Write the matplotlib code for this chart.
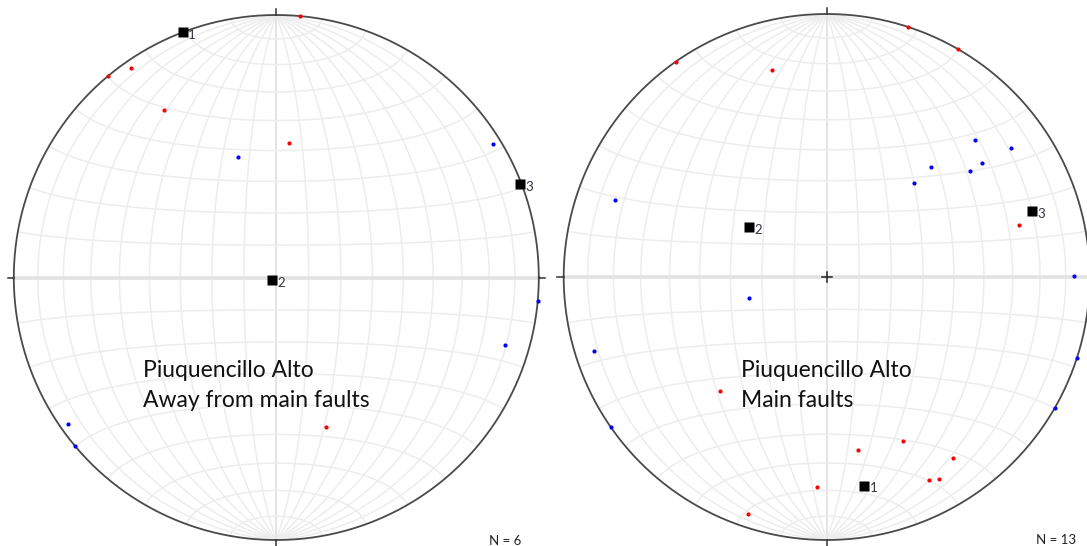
import numpy as np
import matplotlib.pyplot as plt

# Piuquencillo Alto - away from main faults (trend / plunge, degrees)
away_red_trend = [5.2, 325.3, 320.0, 326.3, 5.2, 161.7]
away_red_plunge = [0.0, 3.4, 0.0, 24.2, 47.4, 39.8]
away_blue_trend = [342.5, 58.3, 95.1, 106.5, 234.9, 230.0]
away_blue_plunge = [50.2, 3.5, 0.0, 9.9, 3.4, 0.0]
away_axes_trend = [339.1, 239.9, 69.1]
away_axes_plunge = [0.0, 88.4, 0.7]

# Piuquencillo Alto - main faults
main_red_trend = [18.0, 29.9, 325.0, 345.2, 74.8, 223.2, 169.9, 155.1, 145.0, 153.1, 151.0, 182.6, 198.4]
main_red_plunge = [0.0, 0.0, 0.0, 19.6, 25.1, 40.2, 33.5, 31.7, 17.1, 14.7, 13.2, 21.3, 5.5]
main_blue_trend = [47.3, 54.9, 43.5, 53.8, 53.6, 42.8, 290.0, 89.7, 255.0, 252.4, 107.9, 235.1, 119.8]
main_blue_plunge = [24.2, 15.6, 42.0, 27.7, 32.7, 49.7, 15.4, 6.5, 65.1, 8.0, 0.0, 0.0, 0.0]
main_axes_trend = [169.8, 302.6, 72.3]
main_axes_plunge = [20.5, 61.3, 19.1]

axis_labels = ['1', '2', '3']


def project(trend, plunge):
    # lower hemisphere equal-area (Schmidt)
    t = np.radians(np.asarray(trend, float))
    p = np.radians(np.asarray(plunge, float))
    r = np.sqrt(2) * np.sin((np.pi / 2 - p) / 2)
    return r * np.sin(t), r * np.cos(t)


def proj_vec(x, y, z):
    s = 1 / np.sqrt(1 + z)
    return x * s, y * s


def draw_net(ax, cross=False):
    t = np.radians(np.linspace(-90, 90, 181))
    for d in range(10, 180, 10):
        dr = np.radians(d)
        x, y = proj_vec(np.cos(t) * np.cos(dr), np.sin(t), np.cos(t) * np.sin(dr))
        if d == 90:
            ax.plot(x, y, color='#e4e4e4', lw=1.4, zorder=1)
        else:
            ax.plot(x, y, color='#ededed', lw=1.1, zorder=1)
    phi = np.radians(np.linspace(0, 180, 181))
    for a in range(10, 180, 10):
        ar = np.radians(a)
        x, y = proj_vec(np.sin(ar) * np.cos(phi), np.full_like(phi, np.cos(ar)),
                        np.sin(ar) * np.sin(phi))
        if a == 90:
            ax.plot(x, y, color='#e2e2e2', lw=2.6, zorder=1)
        else:
            ax.plot(x, y, color='#ededed', lw=1.1, zorder=1)
    w = np.linspace(0, 2 * np.pi, 400)
    ax.plot(np.cos(w), np.sin(w), color='#4a4a4a', lw=1.3, zorder=4)
    tk = 0.024
    ax.plot([0, 0], [1, 1 + tk], color='#333333', lw=1.1, zorder=4)
    ax.plot([0, 0], [-1, -1 - tk * 1.3], color='#333333', lw=1.1, zorder=4)
    ax.plot([1, 1 + tk], [0, 0], color='#333333', lw=1.1, zorder=4)
    ax.plot([-1, -1 - tk], [0, 0], color='#333333', lw=1.1, zorder=4)
    if cross:
        c = 0.019
        ax.plot([-c, c], [0, 0], color='#222222', lw=1.1, zorder=4)
        ax.plot([0, 0], [-c, c], color='#222222', lw=1.1, zorder=4)


def draw_data(ax, rt, rp, bt, bp, at, ap):
    x, y = project(rt, rp)
    ax.plot(x, y, 'o', color='#ff0000', ms=3.0, mec='none', zorder=5, clip_on=False)
    x, y = project(bt, bp)
    ax.plot(x, y, 'o', color='#0000ff', ms=3.0, mec='none', zorder=5, clip_on=False)
    x, y = project(at, ap)
    ax.plot(x, y, 's', color='black', ms=6.5, mec='none', zorder=6, clip_on=False)
    for xi, yi, lab in zip(x, y, axis_labels):
        ax.annotate(lab, (xi, yi), xytext=(3.8, -1.8), textcoords='offset points',
                    ha='left', va='center', fontsize=9.5, color='#333344',
                    family='Lato', zorder=3)


W, H = 1087, 546
fig = plt.figure(figsize=(W / 100, H / 100), dpi=100)


def net_axes(cx, cy, R):
    s = 1.1 * R
    ax = fig.add_axes([(cx - s) / W, (H - cy - s) / H, 2 * s / W, 2 * s / H])
    ax.set_xlim(-1.1, 1.1)
    ax.set_ylim(-1.1, 1.1)
    ax.set_aspect('equal')
    ax.axis('off')
    ax.patch.set_visible(False)
    return ax


title_kw = dict(fontsize=16.5, family='Lato', va='baseline', zorder=7, color='#111111')
n_kw = dict(fontsize=9.5, family='Lato', ha='right', va='center', color='#222222')

ax1 = net_axes(276.3, 277.5, 262.5)
draw_net(ax1)
draw_data(ax1, away_red_trend, away_red_plunge, away_blue_trend, away_blue_plunge,
          away_axes_trend, away_axes_plunge)
ax1.text(-0.507, -0.378, 'Piuquencillo Alto', **title_kw)
ax1.text(-0.507, -0.492, 'Away from main faults', **title_kw)
ax1.text(0.935, -1.005, 'N = 6', **n_kw)

ax2 = net_axes(826.7, 277.0, 263.0)
draw_net(ax2, cross=True)
draw_data(ax2, main_red_trend, main_red_plunge, main_blue_trend, main_blue_plunge,
          main_axes_trend, main_axes_plunge)
ax2.text(-0.326, -0.379, 'Piuquencillo Alto', **title_kw)
ax2.text(-0.326, -0.493, 'Main faults', **title_kw)
ax2.text(0.948, -1.0, 'N = 13', **n_kw)

fig.savefig('out.png', dpi=100)
